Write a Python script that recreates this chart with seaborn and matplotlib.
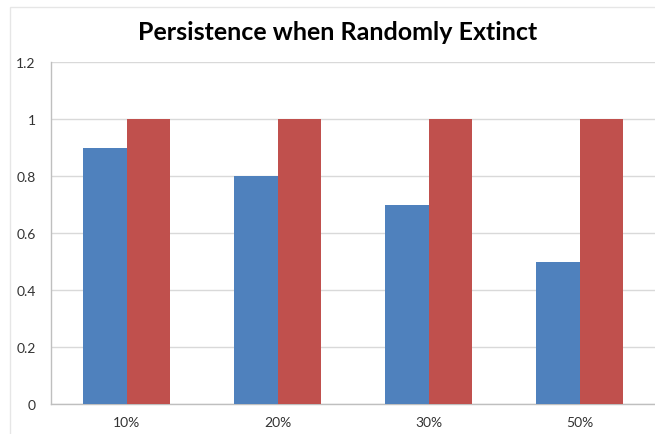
import numpy as np
import pandas as pd
import seaborn as sns
import matplotlib.pyplot as plt
from matplotlib.patches import Rectangle

# data
categories = ['10%', '20%', '30%', '50%']
series_a = [0.9, 0.8, 0.7, 0.5]
series_b = [1.0, 1.0, 1.0, 1.0]
series_names = ['A', 'B']

df = pd.DataFrame({
    'cat': categories * 2,
    'val': series_a + series_b,
    'series': [series_names[0]] * 4 + [series_names[1]] * 4,
})

sns.set_style('white')
plt.rcParams['font.family'] = ['Lato', 'DejaVu Sans']

fig = plt.figure(figsize=(6.55, 4.35), dpi=100)
ax = fig.add_axes([51/655, 30/435, 604/655, 342/435])

sns.barplot(data=df, x='cat', y='val', hue='series', order=categories,
            palette=['#4F81BD', '#C0504D'], width=0.57, gap=0,
            saturation=1, legend=False, ax=ax, zorder=3, linewidth=0)

ax.set_xlim(-0.5, 3.5)
ax.set_ylim(0, 1.2)
ax.set_yticks([0, 0.2, 0.4, 0.6, 0.8, 1, 1.2])
ax.set_yticklabels(['0', '0.2', '0.4', '0.6', '0.8', '1', '1.2'])
ax.set_xlabel('')
ax.set_ylabel('')
ax.yaxis.grid(True, color='#D9D9D9', lw=1, zorder=0)
ax.set_axisbelow(True)

for s in ['top', 'right']:
    ax.spines[s].set_visible(False)
for s in ['left', 'bottom']:
    ax.spines[s].set_color('#BFBFBF')
    ax.spines[s].set_linewidth(1)

ax.set_xticks(np.arange(-0.5, 4, 1), minor=True)
ax.tick_params(axis='x', which='major', length=0, labelsize=10, colors='#333333', pad=9)
ax.tick_params(axis='x', which='minor', length=5, color='#BFBFBF', direction='out')
ax.tick_params(axis='y', length=5, color='#BFBFBF', labelsize=10, labelcolor='#333333', pad=6)

fig.text(338/655, 1 - 33/435, 'Persistence when Randomly Extinct',
         ha='center', va='center', fontsize=18, fontweight='bold', color='black')

fig.patches.append(Rectangle((10/655, -0.01), 1, 1 - 8/435 + 0.01, transform=fig.transFigure,
                             fill=False, edgecolor='#E6E6E6', lw=1))

fig.savefig('out.png', dpi=100)
